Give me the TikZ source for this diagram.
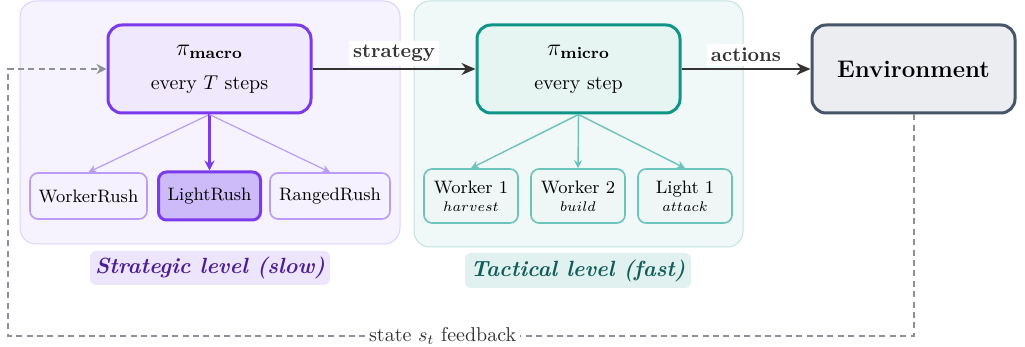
\documentclass[tikz,border=0pt]{standalone}
\usetikzlibrary{arrows.meta}
\definecolor{stratbgfill}{HTML}{F7F3FE}
\definecolor{stratbgline}{HTML}{DDD0FA}
\definecolor{stratmain}{HTML}{7C3AED}
\definecolor{stratfill}{HTML}{F0E9FD}
\definecolor{stratsub}{HTML}{B89CF5}
\definecolor{stratsubfill}{HTML}{F6F1FE}
\definecolor{stratpick}{HTML}{CDBAF8}
\definecolor{strattag}{HTML}{EDE5FB}
\definecolor{strattext}{HTML}{4C1D95}
\definecolor{tactbgfill}{HTML}{F1F8F8}
\definecolor{tactbgline}{HTML}{C0E4E0}
\definecolor{tactmain}{HTML}{0F9488}
\definecolor{tactfill}{HTML}{E6F4F2}
\definecolor{tactsub}{HTML}{6CC3BA}
\definecolor{tactsubfill}{HTML}{EEF7F6}
\definecolor{tacttag}{HTML}{E0F1EF}
\definecolor{tacttext}{HTML}{115E59}
\definecolor{envline}{HTML}{475569}
\definecolor{envfill}{HTML}{ECEDF0}
\definecolor{flow}{HTML}{333333}
\definecolor{fbline}{HTML}{8C9199}
\tikzset{
  groupbg/.style={rounded corners=8pt, line width=0.5pt, inner sep=0pt},
  policy/.style={rounded corners=7pt, line width=1.5pt, minimum width=101.5pt,
    minimum height=44pt, align=center, inner sep=0pt},
  subbox/.style={rounded corners=4pt, line width=0.8pt, inner sep=0pt, align=center, font=\small},
  tag/.style={rounded corners=3pt, inner sep=0pt, font=\fontsize{11}{13}\selectfont\bfseries\itshape},
  flowarrow/.style={-{Stealth[length=7pt,width=6pt]}, line width=1.2pt, draw=flow},
  flowlabel/.style={fill=white, inner sep=2pt, font=\bfseries, text=flow},
  fb/.style={draw=fbline, line width=1pt, dash pattern=on 3pt off 2.2pt},
}
\begin{document}
\begin{tikzpicture}[x=0.5pt, y=-0.5pt]
\useasboundingbox (0,0) rectangle (1025,347);

% level backgrounds
\node[groupbg, draw=stratbgline, fill=stratbgfill, minimum width=190pt, minimum height=121.5pt]
  (stratbg) at (210,122.5) {};
\node[groupbg, draw=tactbgline, fill=tactbgfill, minimum width=164.5pt, minimum height=123pt]
  (tactbg) at (578.5,124) {};

% policies and environment
\node[policy, draw=stratmain, fill=stratfill] (macro) at (209.5,69)
  {{\large$\pi_{\mathbf{macro}}$}\\[5pt] every $T$ steps};
\node[policy, draw=tactmain, fill=tactfill] (micro) at (578.5,69)
  {{\large$\pi_{\mathbf{micro}}$}\\[5pt] every step};
\node[policy, draw=envline, fill=envfill, font=\large\bfseries] (env) at (913.5,69) {Environment};

% strategy options
\node[subbox, draw=stratsub, fill=stratsubfill, minimum width=58.5pt, minimum height=23pt]
  (wr) at (88.5,196) {WorkerRush};
\node[subbox, draw=stratmain, fill=stratpick, line width=1.5pt, minimum width=51pt, minimum height=24pt]
  (lr) at (209.5,196) {LightRush};
\node[subbox, draw=stratsub, fill=stratsubfill, minimum width=60pt, minimum height=23pt]
  (rr) at (330,196) {RangedRush};

% unit actions
\node[subbox, draw=tactsub, fill=tactsubfill, minimum width=47pt, minimum height=27pt]
  (w1) at (471,196) {Worker 1\\[-2pt]{\scriptsize$harvest$}};
\node[subbox, draw=tactsub, fill=tactsubfill, minimum width=47pt, minimum height=27pt]
  (w2) at (578,196) {Worker 2\\[-2pt]{\scriptsize$build$}};
\node[subbox, draw=tactsub, fill=tactsubfill, minimum width=47pt, minimum height=27pt]
  (l1) at (685,196) {Light 1\\[-2pt]{\scriptsize$attack$}};

% level tags
\node[tag, fill=strattag, text=strattext, minimum width=120pt, minimum height=17pt]
  (strattag) at (210,268) {Strategic level (slow)};
\node[tag, fill=tacttag, text=tacttext, minimum width=113pt, minimum height=17.5pt]
  (tacttag) at (578,270.5) {Tactical level (fast)};

% main flow
\draw[flowarrow] (macro.east) -- node[flowlabel, anchor=south, yshift=1pt] {strategy} (micro.west);
\draw[flowarrow] (micro.east) -- node[flowlabel, anchor=south, yshift=1pt] {actions} (env.west);

% strategy selection
\draw[-{Stealth[length=4pt,width=4pt]}, draw=stratsub, line width=0.6pt] (macro.south) -- (wr.north);
\draw[-{Stealth[length=5pt,width=5pt]}, draw=stratmain, line width=1.3pt] (macro.south) -- (lr.north);
\draw[-{Stealth[length=4pt,width=4pt]}, draw=stratsub, line width=0.6pt] (macro.south) -- (rr.north);

% unit commands
\draw[-{Stealth[length=4pt,width=4pt]}, draw=tactsub, line width=0.7pt] (micro.south) -- (w1.north);
\draw[-{Stealth[length=4pt,width=4pt]}, draw=tactsub, line width=0.7pt] (micro.south) -- (w2.north);
\draw[-{Stealth[length=4pt,width=4pt]}, draw=tactsub, line width=0.7pt] (micro.south) -- (l1.north);

% state feedback loop
\coordinate (fbR) at (913.5,336);
\coordinate (fbL) at (8,336);
\draw[fb, -{Stealth[length=5pt,width=5pt]}] (env.south) -- (fbR)
  -- node[pos=0.52, fill=white, inner sep=2pt, text=flow] {state $s_t$ feedback} (fbL)
  |- (macro.west);
\end{tikzpicture}
\end{document}
